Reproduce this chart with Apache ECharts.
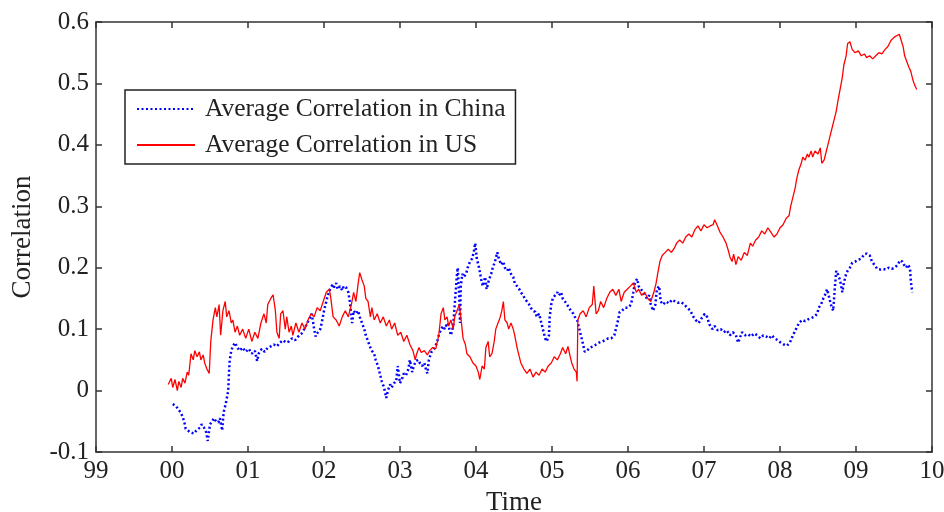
<!DOCTYPE html>
<html><head><meta charset="utf-8">
<script src="https://cdn.jsdelivr.net/npm/echarts@6/dist/echarts.min.js"></script>
<style>html,body{margin:0;padding:0;background:#fff}#c{width:944px;height:512px}</style>
</head><body><div id="c"></div>
<script>
const yearTicks = ['99','00','01','02','03','04','05','06','07','08','09','10'];
const corrTicks = ['-0.1','0','0.1','0.2','0.3','0.4','0.5','0.6'];
const seriesNames = ['Average Correlation in China','Average Correlation in US'];
const xTitle = 'Time';
const yTitle = 'Correlation';

// [decimal year, correlation]
const chinaData = [
[2000.01,-0.022],[2000.05,-0.025],[2000.08,-0.030],[2000.11,-0.035],[2000.13,-0.040],[2000.16,-0.050],[2000.18,-0.062],[2000.21,-0.065],[2000.24,-0.068],[2000.26,-0.066],[2000.29,-0.070],[2000.32,-0.065],[2000.34,-0.066],[2000.37,-0.060],[2000.39,-0.055],[2000.42,-0.060],[2000.45,-0.068],[2000.47,-0.082],[2000.50,-0.055],[2000.53,-0.050],[2000.55,-0.045],[2000.58,-0.050],[2000.61,-0.052],[2000.63,-0.045],[2000.66,-0.065],[2000.68,-0.035],[2000.71,-0.020],[2000.74,0.000],[2000.75,0.030],[2000.76,0.050],[2000.78,0.065],[2000.80,0.072],[2000.83,0.078],[2000.86,0.070],[2000.89,0.065],[2000.93,0.070],[2000.97,0.063],[2001.01,0.068],[2001.05,0.060],[2001.09,0.065],[2001.12,0.048],[2001.14,0.060],[2001.18,0.068],[2001.22,0.063],[2001.26,0.070],[2001.30,0.072],[2001.34,0.075],[2001.38,0.072],[2001.42,0.078],[2001.46,0.082],[2001.50,0.078],[2001.54,0.080],[2001.58,0.085],[2001.62,0.082],[2001.66,0.088],[2001.70,0.092],[2001.74,0.100],[2001.78,0.110],[2001.82,0.120],[2001.84,0.125],[2001.87,0.100],[2001.89,0.088],[2001.92,0.095],[2001.95,0.100],[2001.97,0.110],[2002.00,0.130],[2002.03,0.145],[2002.05,0.155],[2002.08,0.165],[2002.11,0.172],[2002.13,0.168],[2002.16,0.175],[2002.18,0.165],[2002.21,0.170],[2002.24,0.163],[2002.26,0.170],[2002.29,0.168],[2002.32,0.160],[2002.34,0.145],[2002.37,0.110],[2002.39,0.130],[2002.42,0.125],[2002.45,0.130],[2002.47,0.120],[2002.50,0.110],[2002.53,0.100],[2002.55,0.090],[2002.58,0.080],[2002.61,0.070],[2002.63,0.065],[2002.66,0.060],[2002.68,0.050],[2002.71,0.040],[2002.74,0.025],[2002.76,0.015],[2002.79,0.005],[2002.82,-0.012],[2002.84,0.000],[2002.87,0.010],[2002.89,0.005],[2002.92,0.012],[2002.95,0.015],[2002.97,0.040],[2003.00,0.012],[2003.03,0.020],[2003.05,0.028],[2003.08,0.025],[2003.11,0.035],[2003.13,0.050],[2003.16,0.030],[2003.18,0.040],[2003.21,0.048],[2003.24,0.050],[2003.26,0.045],[2003.29,0.040],[2003.32,0.045],[2003.34,0.035],[2003.36,0.028],[2003.38,0.050],[2003.41,0.062],[2003.43,0.065],[2003.46,0.070],[2003.49,0.080],[2003.51,0.090],[2003.54,0.100],[2003.57,0.105],[2003.59,0.100],[2003.62,0.110],[2003.64,0.105],[2003.67,0.090],[2003.70,0.105],[2003.72,0.140],[2003.75,0.190],[2003.76,0.200],[2003.78,0.150],[2003.79,0.110],[2003.80,0.170],[2003.82,0.190],[2003.84,0.185],[2003.87,0.190],[2003.89,0.200],[2003.92,0.210],[2003.95,0.215],[2003.97,0.225],[2003.99,0.240],[2004.01,0.215],[2004.04,0.200],[2004.07,0.180],[2004.09,0.170],[2004.12,0.185],[2004.14,0.165],[2004.17,0.180],[2004.20,0.190],[2004.22,0.200],[2004.25,0.210],[2004.28,0.225],[2004.30,0.215],[2004.33,0.205],[2004.36,0.210],[2004.38,0.200],[2004.41,0.195],[2004.43,0.200],[2004.46,0.190],[2004.49,0.185],[2004.51,0.175],[2004.54,0.170],[2004.57,0.165],[2004.59,0.160],[2004.62,0.155],[2004.64,0.150],[2004.67,0.145],[2004.70,0.140],[2004.72,0.135],[2004.75,0.130],[2004.78,0.128],[2004.80,0.120],[2004.83,0.125],[2004.86,0.110],[2004.88,0.100],[2004.91,0.085],[2004.93,0.080],[2004.96,0.090],[2004.97,0.120],[2004.99,0.140],[2005.01,0.150],[2005.04,0.155],[2005.07,0.160],[2005.09,0.155],[2005.12,0.160],[2005.14,0.150],[2005.17,0.145],[2005.20,0.140],[2005.22,0.135],[2005.25,0.130],[2005.28,0.125],[2005.30,0.120],[2005.33,0.115],[2005.36,0.100],[2005.38,0.090],[2005.41,0.075],[2005.43,0.063],[2005.46,0.065],[2005.50,0.070],[2005.54,0.072],[2005.58,0.075],[2005.62,0.078],[2005.66,0.080],[2005.70,0.082],[2005.74,0.085],[2005.78,0.085],[2005.82,0.090],[2005.84,0.100],[2005.87,0.115],[2005.89,0.128],[2005.92,0.130],[2005.96,0.135],[2006.00,0.135],[2006.04,0.140],[2006.07,0.160],[2006.09,0.175],[2006.12,0.182],[2006.14,0.170],[2006.17,0.165],[2006.20,0.160],[2006.22,0.155],[2006.25,0.150],[2006.28,0.155],[2006.30,0.140],[2006.33,0.130],[2006.36,0.140],[2006.38,0.165],[2006.41,0.170],[2006.43,0.145],[2006.46,0.140],[2006.50,0.145],[2006.54,0.142],[2006.58,0.148],[2006.62,0.145],[2006.66,0.143],[2006.70,0.144],[2006.74,0.140],[2006.78,0.135],[2006.82,0.130],[2006.86,0.120],[2006.89,0.115],[2006.93,0.110],[2006.97,0.118],[2007.01,0.125],[2007.04,0.120],[2007.07,0.108],[2007.11,0.100],[2007.14,0.105],[2007.18,0.098],[2007.22,0.100],[2007.26,0.095],[2007.30,0.098],[2007.34,0.090],[2007.38,0.095],[2007.42,0.090],[2007.45,0.078],[2007.47,0.085],[2007.50,0.095],[2007.54,0.090],[2007.58,0.092],[2007.62,0.088],[2007.66,0.093],[2007.70,0.090],[2007.74,0.085],[2007.78,0.090],[2007.82,0.088],[2007.86,0.085],[2007.89,0.090],[2007.93,0.085],[2007.97,0.082],[2008.01,0.078],[2008.05,0.075],[2008.09,0.073],[2008.13,0.078],[2008.17,0.090],[2008.21,0.100],[2008.25,0.110],[2008.29,0.115],[2008.33,0.113],[2008.37,0.116],[2008.41,0.118],[2008.45,0.120],[2008.49,0.125],[2008.51,0.135],[2008.54,0.140],[2008.57,0.150],[2008.59,0.155],[2008.62,0.165],[2008.64,0.155],[2008.67,0.140],[2008.70,0.130],[2008.72,0.165],[2008.74,0.195],[2008.76,0.190],[2008.79,0.180],[2008.82,0.160],[2008.84,0.175],[2008.87,0.190],[2008.89,0.195],[2008.92,0.200],[2008.95,0.208],[2008.99,0.210],[2009.03,0.213],[2009.07,0.215],[2009.11,0.222],[2009.14,0.223],[2009.18,0.220],[2009.21,0.210],[2009.24,0.205],[2009.28,0.198],[2009.32,0.197],[2009.36,0.198],[2009.39,0.197],[2009.43,0.200],[2009.47,0.198],[2009.51,0.200],[2009.55,0.205],[2009.58,0.212],[2009.61,0.210],[2009.63,0.205],[2009.66,0.200],[2009.68,0.205],[2009.71,0.200],[2009.72,0.180],[2009.74,0.160]
];

const usData = [
[1999.95,0.010],[1999.99,0.020],[2000.01,0.005],[2000.04,0.018],[2000.07,0.000],[2000.09,0.015],[2000.12,0.005],[2000.14,0.020],[2000.17,0.012],[2000.20,0.030],[2000.22,0.025],[2000.25,0.060],[2000.28,0.050],[2000.30,0.065],[2000.33,0.055],[2000.36,0.063],[2000.38,0.050],[2000.41,0.058],[2000.43,0.045],[2000.46,0.035],[2000.49,0.028],[2000.51,0.080],[2000.54,0.115],[2000.57,0.135],[2000.59,0.120],[2000.62,0.140],[2000.64,0.090],[2000.67,0.130],[2000.70,0.145],[2000.72,0.120],[2000.75,0.130],[2000.78,0.110],[2000.80,0.115],[2000.83,0.095],[2000.86,0.105],[2000.89,0.090],[2000.93,0.100],[2000.97,0.085],[2001.01,0.100],[2001.05,0.080],[2001.09,0.095],[2001.13,0.085],[2001.17,0.110],[2001.21,0.125],[2001.24,0.110],[2001.26,0.140],[2001.30,0.150],[2001.33,0.156],[2001.36,0.130],[2001.38,0.095],[2001.41,0.085],[2001.43,0.125],[2001.46,0.130],[2001.49,0.100],[2001.51,0.120],[2001.54,0.095],[2001.57,0.105],[2001.59,0.090],[2001.63,0.110],[2001.67,0.095],[2001.71,0.110],[2001.75,0.100],[2001.79,0.115],[2001.83,0.125],[2001.87,0.120],[2001.91,0.135],[2001.95,0.130],[2001.99,0.145],[2002.03,0.160],[2002.07,0.165],[2002.09,0.150],[2002.12,0.120],[2002.16,0.115],[2002.20,0.105],[2002.24,0.120],[2002.28,0.130],[2002.32,0.120],[2002.36,0.140],[2002.39,0.160],[2002.42,0.145],[2002.45,0.175],[2002.47,0.192],[2002.50,0.180],[2002.53,0.170],[2002.55,0.150],[2002.58,0.145],[2002.61,0.120],[2002.63,0.135],[2002.66,0.115],[2002.70,0.125],[2002.74,0.110],[2002.78,0.120],[2002.82,0.105],[2002.86,0.115],[2002.89,0.100],[2002.93,0.110],[2002.97,0.090],[2003.01,0.095],[2003.05,0.080],[2003.09,0.090],[2003.13,0.075],[2003.17,0.065],[2003.20,0.050],[2003.22,0.060],[2003.25,0.070],[2003.28,0.062],[2003.32,0.065],[2003.36,0.058],[2003.39,0.065],[2003.43,0.070],[2003.47,0.068],[2003.51,0.090],[2003.54,0.125],[2003.57,0.135],[2003.59,0.115],[2003.62,0.120],[2003.64,0.105],[2003.67,0.115],[2003.70,0.100],[2003.72,0.120],[2003.75,0.130],[2003.78,0.140],[2003.80,0.120],[2003.83,0.085],[2003.86,0.075],[2003.88,0.060],[2003.92,0.055],[2003.96,0.045],[2004.00,0.040],[2004.03,0.030],[2004.05,0.018],[2004.08,0.040],[2004.11,0.035],[2004.13,0.070],[2004.16,0.080],[2004.18,0.055],[2004.21,0.060],[2004.24,0.080],[2004.26,0.100],[2004.29,0.110],[2004.32,0.120],[2004.34,0.130],[2004.36,0.145],[2004.38,0.115],[2004.41,0.110],[2004.43,0.100],[2004.46,0.110],[2004.49,0.100],[2004.51,0.090],[2004.54,0.070],[2004.57,0.055],[2004.59,0.045],[2004.63,0.035],[2004.67,0.028],[2004.71,0.035],[2004.75,0.022],[2004.79,0.030],[2004.83,0.025],[2004.87,0.035],[2004.91,0.030],[2004.95,0.040],[2004.99,0.045],[2005.03,0.055],[2005.07,0.050],[2005.11,0.060],[2005.14,0.070],[2005.18,0.060],[2005.21,0.072],[2005.24,0.055],[2005.26,0.045],[2005.29,0.035],[2005.32,0.030],[2005.33,0.015],[2005.34,0.115],[2005.37,0.125],[2005.41,0.130],[2005.45,0.120],[2005.49,0.135],[2005.53,0.140],[2005.55,0.170],[2005.58,0.125],[2005.61,0.130],[2005.64,0.145],[2005.68,0.135],[2005.72,0.150],[2005.76,0.160],[2005.80,0.165],[2005.84,0.155],[2005.88,0.165],[2005.91,0.145],[2005.95,0.160],[2005.99,0.165],[2006.03,0.170],[2006.07,0.175],[2006.11,0.160],[2006.14,0.165],[2006.18,0.155],[2006.22,0.160],[2006.26,0.150],[2006.30,0.145],[2006.34,0.160],[2006.37,0.175],[2006.39,0.190],[2006.42,0.210],[2006.45,0.220],[2006.49,0.225],[2006.53,0.230],[2006.57,0.225],[2006.61,0.232],[2006.64,0.240],[2006.68,0.245],[2006.72,0.240],[2006.76,0.250],[2006.80,0.255],[2006.84,0.250],[2006.88,0.262],[2006.92,0.268],[2006.96,0.260],[2007.00,0.270],[2007.04,0.265],[2007.08,0.268],[2007.12,0.270],[2007.14,0.278],[2007.17,0.270],[2007.21,0.258],[2007.25,0.250],[2007.29,0.240],[2007.32,0.228],[2007.34,0.218],[2007.37,0.210],[2007.39,0.222],[2007.42,0.205],[2007.45,0.218],[2007.49,0.212],[2007.53,0.225],[2007.57,0.220],[2007.61,0.240],[2007.64,0.235],[2007.68,0.245],[2007.72,0.250],[2007.76,0.260],[2007.80,0.255],[2007.84,0.265],[2007.88,0.258],[2007.92,0.250],[2007.96,0.255],[2008.00,0.265],[2008.04,0.270],[2008.08,0.280],[2008.12,0.285],[2008.14,0.300],[2008.17,0.315],[2008.20,0.330],[2008.22,0.345],[2008.25,0.360],[2008.28,0.370],[2008.30,0.380],[2008.33,0.375],[2008.36,0.385],[2008.38,0.380],[2008.41,0.390],[2008.43,0.380],[2008.46,0.390],[2008.50,0.385],[2008.53,0.395],[2008.55,0.370],[2008.58,0.375],[2008.61,0.390],[2008.63,0.400],[2008.66,0.415],[2008.68,0.425],[2008.71,0.440],[2008.74,0.455],[2008.76,0.470],[2008.79,0.490],[2008.82,0.510],[2008.84,0.530],[2008.87,0.545],[2008.89,0.565],[2008.92,0.568],[2008.95,0.555],[2008.99,0.550],[2009.03,0.553],[2009.07,0.545],[2009.11,0.548],[2009.14,0.542],[2009.18,0.545],[2009.22,0.540],[2009.26,0.545],[2009.30,0.550],[2009.34,0.548],[2009.38,0.555],[2009.42,0.560],[2009.46,0.570],[2009.50,0.575],[2009.54,0.578],[2009.57,0.580],[2009.59,0.572],[2009.62,0.560],[2009.64,0.545],[2009.67,0.535],[2009.70,0.525],[2009.72,0.520],[2009.75,0.505],[2009.78,0.495],[2009.80,0.490]
];

const serif = "'Liberation Serif','Times New Roman',serif";
const axisCol = '#333';
const chart = echarts.init(document.getElementById('c'), null, {renderer:'canvas'});
const xFmt = v => yearTicks[Math.round(v - 1999)];
const yFmt = v => corrTicks[Math.round((v + 0.1) * 10)];
const xBase = {type:'value', min:1999, max:2010, interval:1};
const yBase = {type:'value', min:-0.1, max:0.6, interval:0.1};
chart.setOption({
  animation:false,
  backgroundColor:'#fff',
  grid:{left:96, right:12, top:22, bottom:60, containLabel:false, outerBoundsMode:'none'},
  legend:{
    data:seriesNames, left:125, top:90, orient:'vertical',
    itemWidth:58, itemHeight:14, itemGap:10,
    padding:[6,10,6,11], borderColor:'#222', borderWidth:1.5, backgroundColor:'#fff',
    itemStyle:{opacity:0},
    textStyle:{fontFamily:serif, fontSize:25.5, color:'#222', padding:[0,0,0,5]}
  },
  xAxis:[
    Object.assign({}, xBase, {position:'bottom',
      name:xTitle, nameLocation:'middle', nameGap:37,
      nameTextStyle:{fontFamily:serif, fontSize:27, color:'#222'},
      axisLine:{onZero:false, lineStyle:{color:axisCol, width:1.5}},
      axisTick:{inside:true, length:6, lineStyle:{color:axisCol, width:1.5}},
      axisLabel:{formatter:xFmt, fontFamily:serif, fontSize:25, color:'#222', margin:7},
      splitLine:{show:false}}),
    Object.assign({}, xBase, {position:'top',
      axisLine:{onZero:false, lineStyle:{color:axisCol, width:1.5}},
      axisTick:{inside:true, length:6, lineStyle:{color:axisCol, width:1.5}},
      axisLabel:{show:false}, splitLine:{show:false}})
  ],
  yAxis:[
    Object.assign({}, yBase, {position:'left',
      name:yTitle, nameLocation:'middle', nameGap:60, nameRotate:90,
      nameTextStyle:{fontFamily:serif, fontSize:27, color:'#222'},
      axisLine:{show:true, onZero:false, lineStyle:{color:axisCol, width:1.5}},
      axisTick:{show:true, inside:true, length:6, lineStyle:{color:axisCol, width:1.5}},
      axisLabel:{formatter:yFmt, fontFamily:serif, fontSize:25, color:'#222', margin:7},
      splitLine:{show:false}}),
    Object.assign({}, yBase, {position:'right',
      axisLine:{show:true, onZero:false, lineStyle:{color:axisCol, width:1.5}},
      axisTick:{show:true, inside:true, length:6, lineStyle:{color:axisCol, width:1.5}},
      axisLabel:{show:false}, splitLine:{show:false}})
  ],
  series:[
    {name:seriesNames[0], type:'line', data:chinaData, xAxisIndex:0, yAxisIndex:0,
      symbol:'none', showSymbol:false,
      lineStyle:{color:'#0000ff', width:2.5, type:[2,2.5]}, itemStyle:{color:'#0000ff'}},
    {name:seriesNames[1], type:'line', data:usData, xAxisIndex:0, yAxisIndex:0,
      symbol:'none', showSymbol:false,
      lineStyle:{color:'#ff0000', width:1.3, type:'solid'}, itemStyle:{color:'#ff0000'}}
  ]
});
</script></body></html>
